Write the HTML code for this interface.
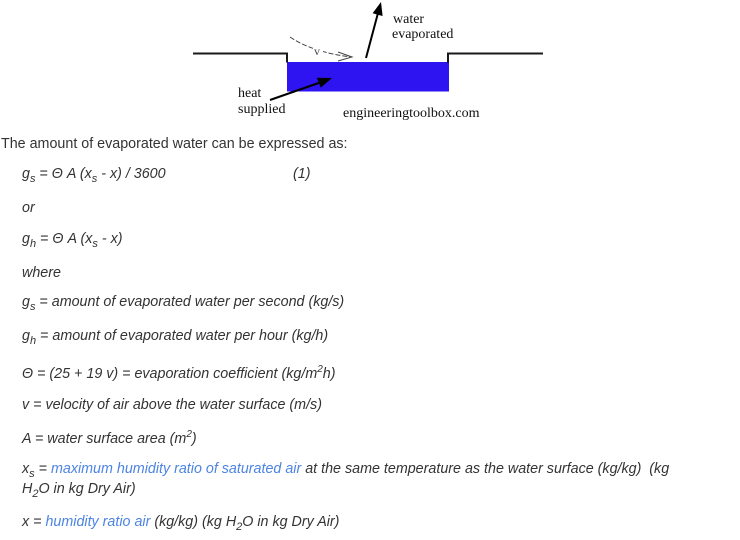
<!DOCTYPE html>
<html>
<head>
<meta charset="utf-8">
<style>
html,body{margin:0;padding:0;background:#fff;}
body{width:740px;height:540px;overflow:hidden;}
svg{display:block;}
</style>
</head>
<body>
<svg width="740" height="540" viewBox="0 0 740 540" xmlns="http://www.w3.org/2000/svg">
<rect width="740" height="540" fill="#fff"/>
<!-- Diagram -->
<rect x="287" y="62" width="162" height="29.5" fill="#2d14f0"/>
<polyline points="193,53.5 287,53.5 287,62.5" fill="none" stroke="#1a1a1a" stroke-width="2"/>
<polyline points="448,63 448,53.5 543,53.5" fill="none" stroke="#1a1a1a" stroke-width="2"/>
<!-- water evaporated arrow -->
<line x1="366" y1="58" x2="378" y2="13" stroke="#000" stroke-width="2"/>
<polygon points="381,2 382.6,16 372.6,13.3" fill="#000"/>
<!-- heat arrow -->
<line x1="270" y1="100" x2="320" y2="82.5" stroke="#000" stroke-width="2"/>
<polygon points="332,78 320.8,87.6 316.8,77.8" fill="#000"/>
<!-- v dashed curve -->
<path d="M290,37 Q312,52 351,57" fill="none" stroke="#444" stroke-width="1" stroke-dasharray="5,2"/>
<polyline points="338,52 352,57 338,61" fill="none" stroke="#444" stroke-width="1"/>
<rect x="313" y="46" width="10" height="10" fill="#fff"/>
<text x="314" y="55" font-family="'Liberation Serif',serif" font-size="12" fill="#444">v</text>
<g font-family="'Liberation Serif',serif" font-size="14" fill="#111">
<text x="393" y="23">water</text>
<text x="392" y="38">evaporated</text>
<text x="238" y="97">heat</text>
<text x="238" y="113">supplied</text>
<text x="343" y="117">engineeringtoolbox.com</text>
</g>
<!-- Body text -->
<g font-family="'Liberation Sans',Arial,sans-serif" font-size="14.3" fill="#333">
<text x="1" y="148">The amount of evaporated water can be expressed as:</text>
<g font-style="italic">
<text x="22" y="178">g<tspan font-size="11" dy="4">s</tspan><tspan dy="-4"> = Θ A (x</tspan><tspan font-size="11" dy="4">s</tspan><tspan dy="-4"> - x) / 3600</tspan></text>
<text x="293" y="178">(1)</text>
<text x="22" y="212">or</text>
<text x="22" y="243">g<tspan font-size="11" dy="4">h</tspan><tspan dy="-4"> = Θ A (x</tspan><tspan font-size="11" dy="4">s</tspan><tspan dy="-4"> - x)</tspan></text>
<text x="22" y="277">where</text>
<text x="22" y="306">g<tspan font-size="11" dy="4">s</tspan><tspan dy="-4"> = amount of evaporated water per second (kg/s)</tspan></text>
<text x="22" y="340">g<tspan font-size="11" dy="4">h</tspan><tspan dy="-4"> = amount of evaporated water per hour (kg/h)</tspan></text>
<text x="22" y="378">Θ = (25 + 19 v) = evaporation coefficient (kg/m<tspan font-size="10" dy="-6">2</tspan><tspan dy="6">h)</tspan></text>
<text x="22" y="409">v = velocity of air above the water surface (m/s)</text>
<text x="22" y="443">A = water surface area (m<tspan font-size="10" dy="-6">2</tspan><tspan dy="6">)</tspan></text>
<text x="22" y="473">x<tspan font-size="11" dy="4">s</tspan><tspan dy="-4"> = </tspan><tspan fill="#4c84e4">maximum humidity ratio of saturated air</tspan><tspan> at the same temperature as the water surface (kg/kg) &#160;(kg</tspan></text>
<text x="22" y="493">H<tspan font-size="11" dy="4">2</tspan><tspan dy="-4">O in kg Dry Air)</tspan></text>
<text x="22" y="526">x = <tspan fill="#4c84e4">humidity ratio air</tspan><tspan> (kg/kg) (kg H</tspan><tspan font-size="11" dy="4">2</tspan><tspan dy="-4">O in kg Dry Air)</tspan></text>
</g>
</g>
</svg>
</body>
</html>
